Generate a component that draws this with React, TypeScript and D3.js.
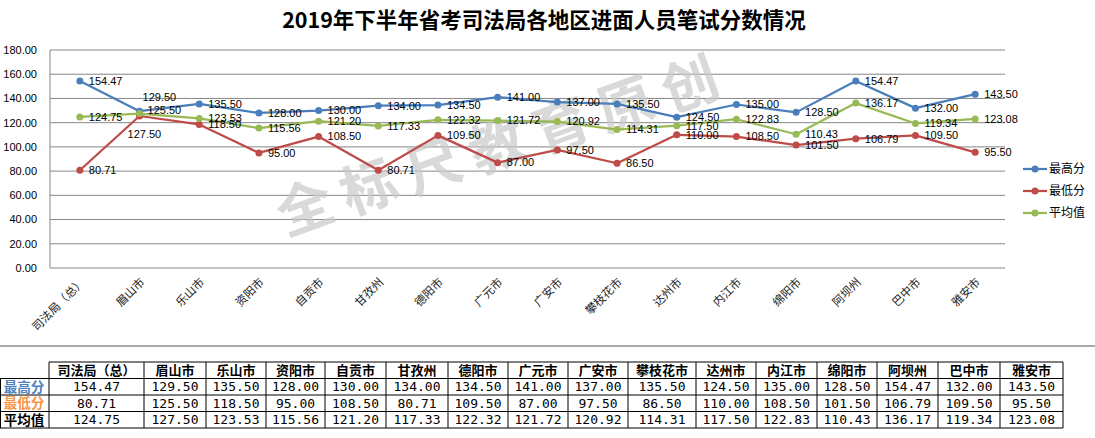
import React from 'react';
import * as d3 from 'd3';

const categories = ['司法局（总）', '眉山市', '乐山市', '资阳市', '自贡市', '甘孜州', '德阳市', '广元市', '广安市', '攀枝花市', '达州市', '内江市', '绵阳市', '阿坝州', '巴中市', '雅安市'];
const maxScores = [154.47, 129.5, 135.5, 128.0, 130.0, 134.0, 134.5, 141.0, 137.0, 135.5, 124.5, 135.0, 128.5, 154.47, 132.0, 143.5];
const minScores = [80.71, 125.5, 118.5, 95.0, 108.5, 80.71, 109.5, 87.0, 97.5, 86.5, 110.0, 108.5, 101.5, 106.79, 109.5, 95.5];
const avgScores = [124.75, 127.5, 123.53, 115.56, 121.2, 117.33, 122.32, 121.72, 120.92, 114.31, 117.5, 122.83, 110.43, 136.17, 119.34, 123.08];
const yTicks = [0, 20, 40, 60, 80, 100, 120, 140, 160, 180];
const seriesNames = ['最高分', '最低分', '平均值'];
const title = '2019年下半年省考司法局各地区进面人员笔试分数情况';
const watermark = ['全', '标', '尺', '教', '育', '原', '创'];

const W = 1095;
const H = 438;
const colors = ['#4a7ebb', '#be4b48', '#98b954'];
const labelColors = ['#4f81bd', '#f79646', '#000000'];
const series = [maxScores, minScores, avgScores];

// label offset exceptions (series index, category index) -> [dx, dy]
const labelOffsets: Record<string, [number, number]> = {
  '0-1': [3, -14],
  '1-1': [8, -6],
  '2-1': [-12, 21],
};

const colBorders = [49, 144, 206, 266, 325, 386, 448, 508, 568, 628, 696, 756, 817, 877, 938, 1000, 1063];
const rowBorders = [362, 378.5, 395, 411.5, 428];

export default function App() {
  const x = d3.scalePoint<string>().domain(categories).range([50, 1005]).padding(0.5);
  const y = d3.scaleLinear().domain([0, 180]).range([268, 50]);
  const line = d3
    .line<number>()
    .x((_, i) => x(categories[i]) as number)
    .y((d) => y(d));
  const fmt = d3.format('.2f');
  const sans = '"Liberation Sans", Arial, sans-serif';
  const cjk = '"Noto Sans CJK SC", "Noto Sans", sans-serif';
  const mono = '"DejaVu Sans Mono", "Liberation Mono", monospace';

  const wmStart = [305, 208];
  const wmEnd = [690, 85];

  return (
    <svg width={W} height={H} style={{ position: 'absolute', left: 0, top: 0, background: '#fff' }}>
      <rect x={0} y={0} width={W} height={H} fill="#fff" />
      <text x={544} y={28} textAnchor="middle" fontFamily={cjk} fontWeight={700} fontSize={21.5} fill="#000">
        {title}
      </text>

      {/* gridlines */}
      {yTicks.map((t) => (
        <line key={'g' + t} x1={50} x2={1005} y1={y(t)} y2={y(t)} stroke="#868686" strokeWidth={1} />
      ))}
      <line x1={50} x2={50} y1={y(180)} y2={y(0)} stroke="#868686" strokeWidth={1} />
      {yTicks.map((t) => (
        <text key={'yl' + t} x={37} y={y(t)} dy="0.35em" textAnchor="end" fontFamily={sans} fontSize={11} fill="#000">
          {fmt(t)}
        </text>
      ))}

      {/* watermark */}
      {watermark.map((c, i) => {
        const t = i / (watermark.length - 1);
        const cx = wmStart[0] + (wmEnd[0] - wmStart[0]) * t;
        const cy = wmStart[1] + (wmEnd[1] - wmStart[1]) * t;
        return (
          <text
            key={'wm' + i}
            x={cx}
            y={cy}
            dy="0.35em"
            textAnchor="middle"
            fontFamily={cjk}
            fontWeight={700}
            fontSize={56}
            fill="#c9c9c9"
            opacity={0.7}
            transform={`rotate(-20 ${cx} ${cy})`}
          >
            {c}
          </text>
        );
      })}

      {/* x labels */}
      {categories.map((c) => {
        const px = (x(c) as number) + 3;
        const py = 280;
        return (
          <text
            key={'xl' + c}
            x={px}
            y={py}
            dy="0.35em"
            textAnchor="end"
            fontFamily={cjk}
            fontSize={11.5}
            fill="#222"
            transform={`rotate(-45 ${px} ${py})`}
          >
            {c}
          </text>
        );
      })}

      {/* lines */}
      {series.map((s, si) => (
        <g key={'s' + si}>
          <path d={line(s) as string} fill="none" stroke={colors[si]} strokeWidth={2.25} strokeLinejoin="round" />
          {s.map((v, i) => (
            <circle key={i} cx={x(categories[i]) as number} cy={y(v)} r={3.5} fill={colors[si]} />
          ))}
        </g>
      ))}

      {/* data labels */}
      {series.map((s, si) =>
        s.map((v, i) => {
          const off = labelOffsets[`${si}-${i}`] || [9, 0];
          return (
            <text
              key={`dl${si}-${i}`}
              x={(x(categories[i]) as number) + off[0]}
              y={y(v) + off[1]}
              dy="0.35em"
              fontFamily={sans}
              fontSize={11}
              fill="#000"
            >
              {fmt(v)}
            </text>
          );
        })
      )}

      {/* legend */}
      {seriesNames.map((n, i) => {
        const ly = 169 + i * 22;
        return (
          <g key={'lg' + i}>
            <line x1={1023} x2={1047} y1={ly} y2={ly} stroke={colors[i]} strokeWidth={2.25} />
            <circle cx={1035} cy={ly} r={3.5} fill={colors[i]} />
            <text x={1049} y={ly} dy="0.35em" fontFamily={cjk} fontSize={12} fill="#000">
              {n}
            </text>
          </g>
        );
      })}

      {/* chart frame bottom */}
      <line x1={0} x2={W} y1={346} y2={346} stroke="#8c8c8c" strokeWidth={1.5} />

      {/* table */}
      {rowBorders.map((ry, i) => (
        <line key={'rb' + i} x1={i === 0 ? 49 : 0} x2={colBorders[colBorders.length - 1]} y1={ry} y2={ry} stroke="#000" strokeWidth={1} />
      ))}
      <line x1={0.5} x2={0.5} y1={rowBorders[1]} y2={rowBorders[4]} stroke="#000" strokeWidth={1} />
      {colBorders.map((cx, i) => (
        <line key={'cb' + i} x1={cx} x2={cx} y1={rowBorders[0]} y2={rowBorders[4]} stroke="#000" strokeWidth={1} />
      ))}
      {categories.map((c, i) => (
        <text
          key={'th' + i}
          x={(colBorders[i] + colBorders[i + 1]) / 2}
          y={(rowBorders[0] + rowBorders[1]) / 2}
          dy="0.36em"
          textAnchor="middle"
          fontFamily={cjk}
          fontWeight={700}
          fontSize={13}
          fill="#000"
        >
          {c}
        </text>
      ))}
      {seriesNames.map((n, ri) => (
        <g key={'tr' + ri}>
          <text
            x={24}
            y={(rowBorders[ri + 1] + rowBorders[ri + 2]) / 2}
            dy="0.36em"
            textAnchor="middle"
            fontFamily={cjk}
            fontWeight={700}
            fontSize={13.5}
            fill={labelColors[ri]}
          >
            {n}
          </text>
          {series[ri].map((v, i) => (
            <text
              key={i}
              x={(colBorders[i] + colBorders[i + 1]) / 2}
              y={(rowBorders[ri + 1] + rowBorders[ri + 2]) / 2}
              dy="0.36em"
              textAnchor="middle"
              fontFamily={mono}
              fontSize={13}
              fill="#000"
            >
              {fmt(v)}
            </text>
          ))}
        </g>
      ))}
    </svg>
  );
}
